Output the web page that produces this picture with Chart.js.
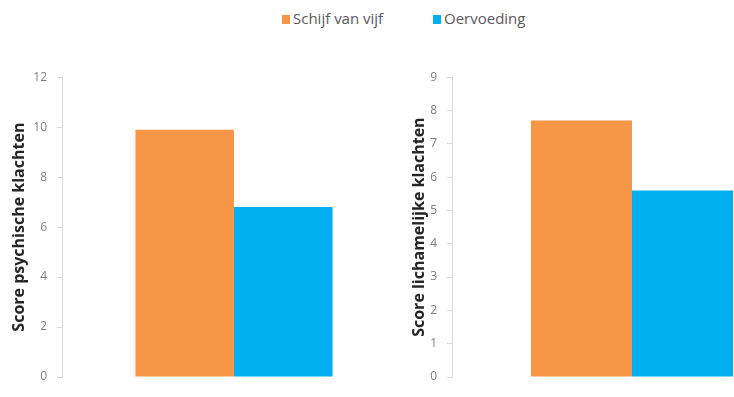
<!DOCTYPE html>
<html>
<head>
<meta charset="utf-8">
<script src="https://cdn.jsdelivr.net/npm/chart.js@4/dist/chart.umd.min.js"></script>
<style>
  html, body { margin: 0; padding: 0; background: #fff; overflow: hidden; width: 734px; height: 397px; }
  #wrap { position: relative; width: 734px; height: 397px; overflow: hidden; }
  canvas { position: absolute; }
  #c1 { left: 0; top: 60px; }
  #c2 { left: 400px; top: 60px; }
  .legend { position: absolute; top: 9px; font-family: "Open Sans", "Liberation Sans", sans-serif; font-size: 15px; color: #595959; line-height: 18px; white-space: nowrap; }
  .legend i { display: inline-block; width: 8px; height: 9px; margin-right: 3px; vertical-align: 0px; }
</style>
</head>
<body>
<div id="wrap">
  <div class="legend" id="lg1" style="left:282px"><i></i><span></span></div>
  <div class="legend" id="lg2" style="left:433px"><i></i><span></span></div>
  <canvas id="c1" width="406" height="337"></canvas>
  <canvas id="c2" width="412" height="337"></canvas>
</div>
<script>
// Series and values
const seriesNames = ['Schijf van vijf', 'Oervoeding'];
const seriesColors = ['#F79646', '#00B0F0'];
const categories = [''];
const psychischeScores = [9.9, 6.8];
const lichamelijkeScores = [7.7, 5.6];

// Axis ranges
const psychischeAxis = { max: 12, step: 2 };
const lichamelijkeAxis = { max: 9, step: 1 };

// HTML legend
[['lg1', 0], ['lg2', 1]].forEach(([id, i]) => {
  const el = document.getElementById(id);
  el.querySelector('i').style.background = seriesColors[i];
  el.querySelector('span').textContent = seriesNames[i];
});

function makeChart(canvasId, values, axis, title, axisWidth, catPct) {
  const datasets = seriesNames.map((name, i) => ({
    label: name,
    data: [values[i]],
    backgroundColor: seriesColors[i],
    borderWidth: 0,
    barPercentage: 1,
    categoryPercentage: catPct
  }));
  return new Chart(document.getElementById(canvasId), {
    type: 'bar',
    data: { labels: categories, datasets },
    options: {
      responsive: false,
      animation: false,
      layout: { padding: { top: 15, bottom: 20, left: 0, right: 0 } },
      plugins: { legend: { display: false }, tooltip: { enabled: false } },
      scales: {
        x: { display: false },
        y: {
          min: 0,
          max: axis.max,
          ticks: {
            stepSize: axis.step,
            color: '#7f7f7f',
            padding: 10,
            font: { family: '"Open Sans", "Liberation Sans", sans-serif', size: 12 }
          },
          grid: { drawOnChartArea: false, drawTicks: true, tickLength: 5, color: '#d9d9d9' },
          border: { display: true, color: '#d9d9d9' },
          title: {
            display: true,
            text: title,
            color: '#262626',
            padding: { top: 10, bottom: 0 },
            font: { family: '"Open Sans", "Liberation Sans", sans-serif', size: 16, weight: 'bold' }
          },
          afterFit(scale) { scale.width = axisWidth; }
        }
      }
    }
  });
}

makeChart('c1', psychischeScores, psychischeAxis, 'Score psychische klachten', 62, 0.573);
makeChart('c2', lichamelijkeScores, lichamelijkeAxis, 'Score lichamelijke klachten', 52, 0.561);
</script>
</body>
</html>
